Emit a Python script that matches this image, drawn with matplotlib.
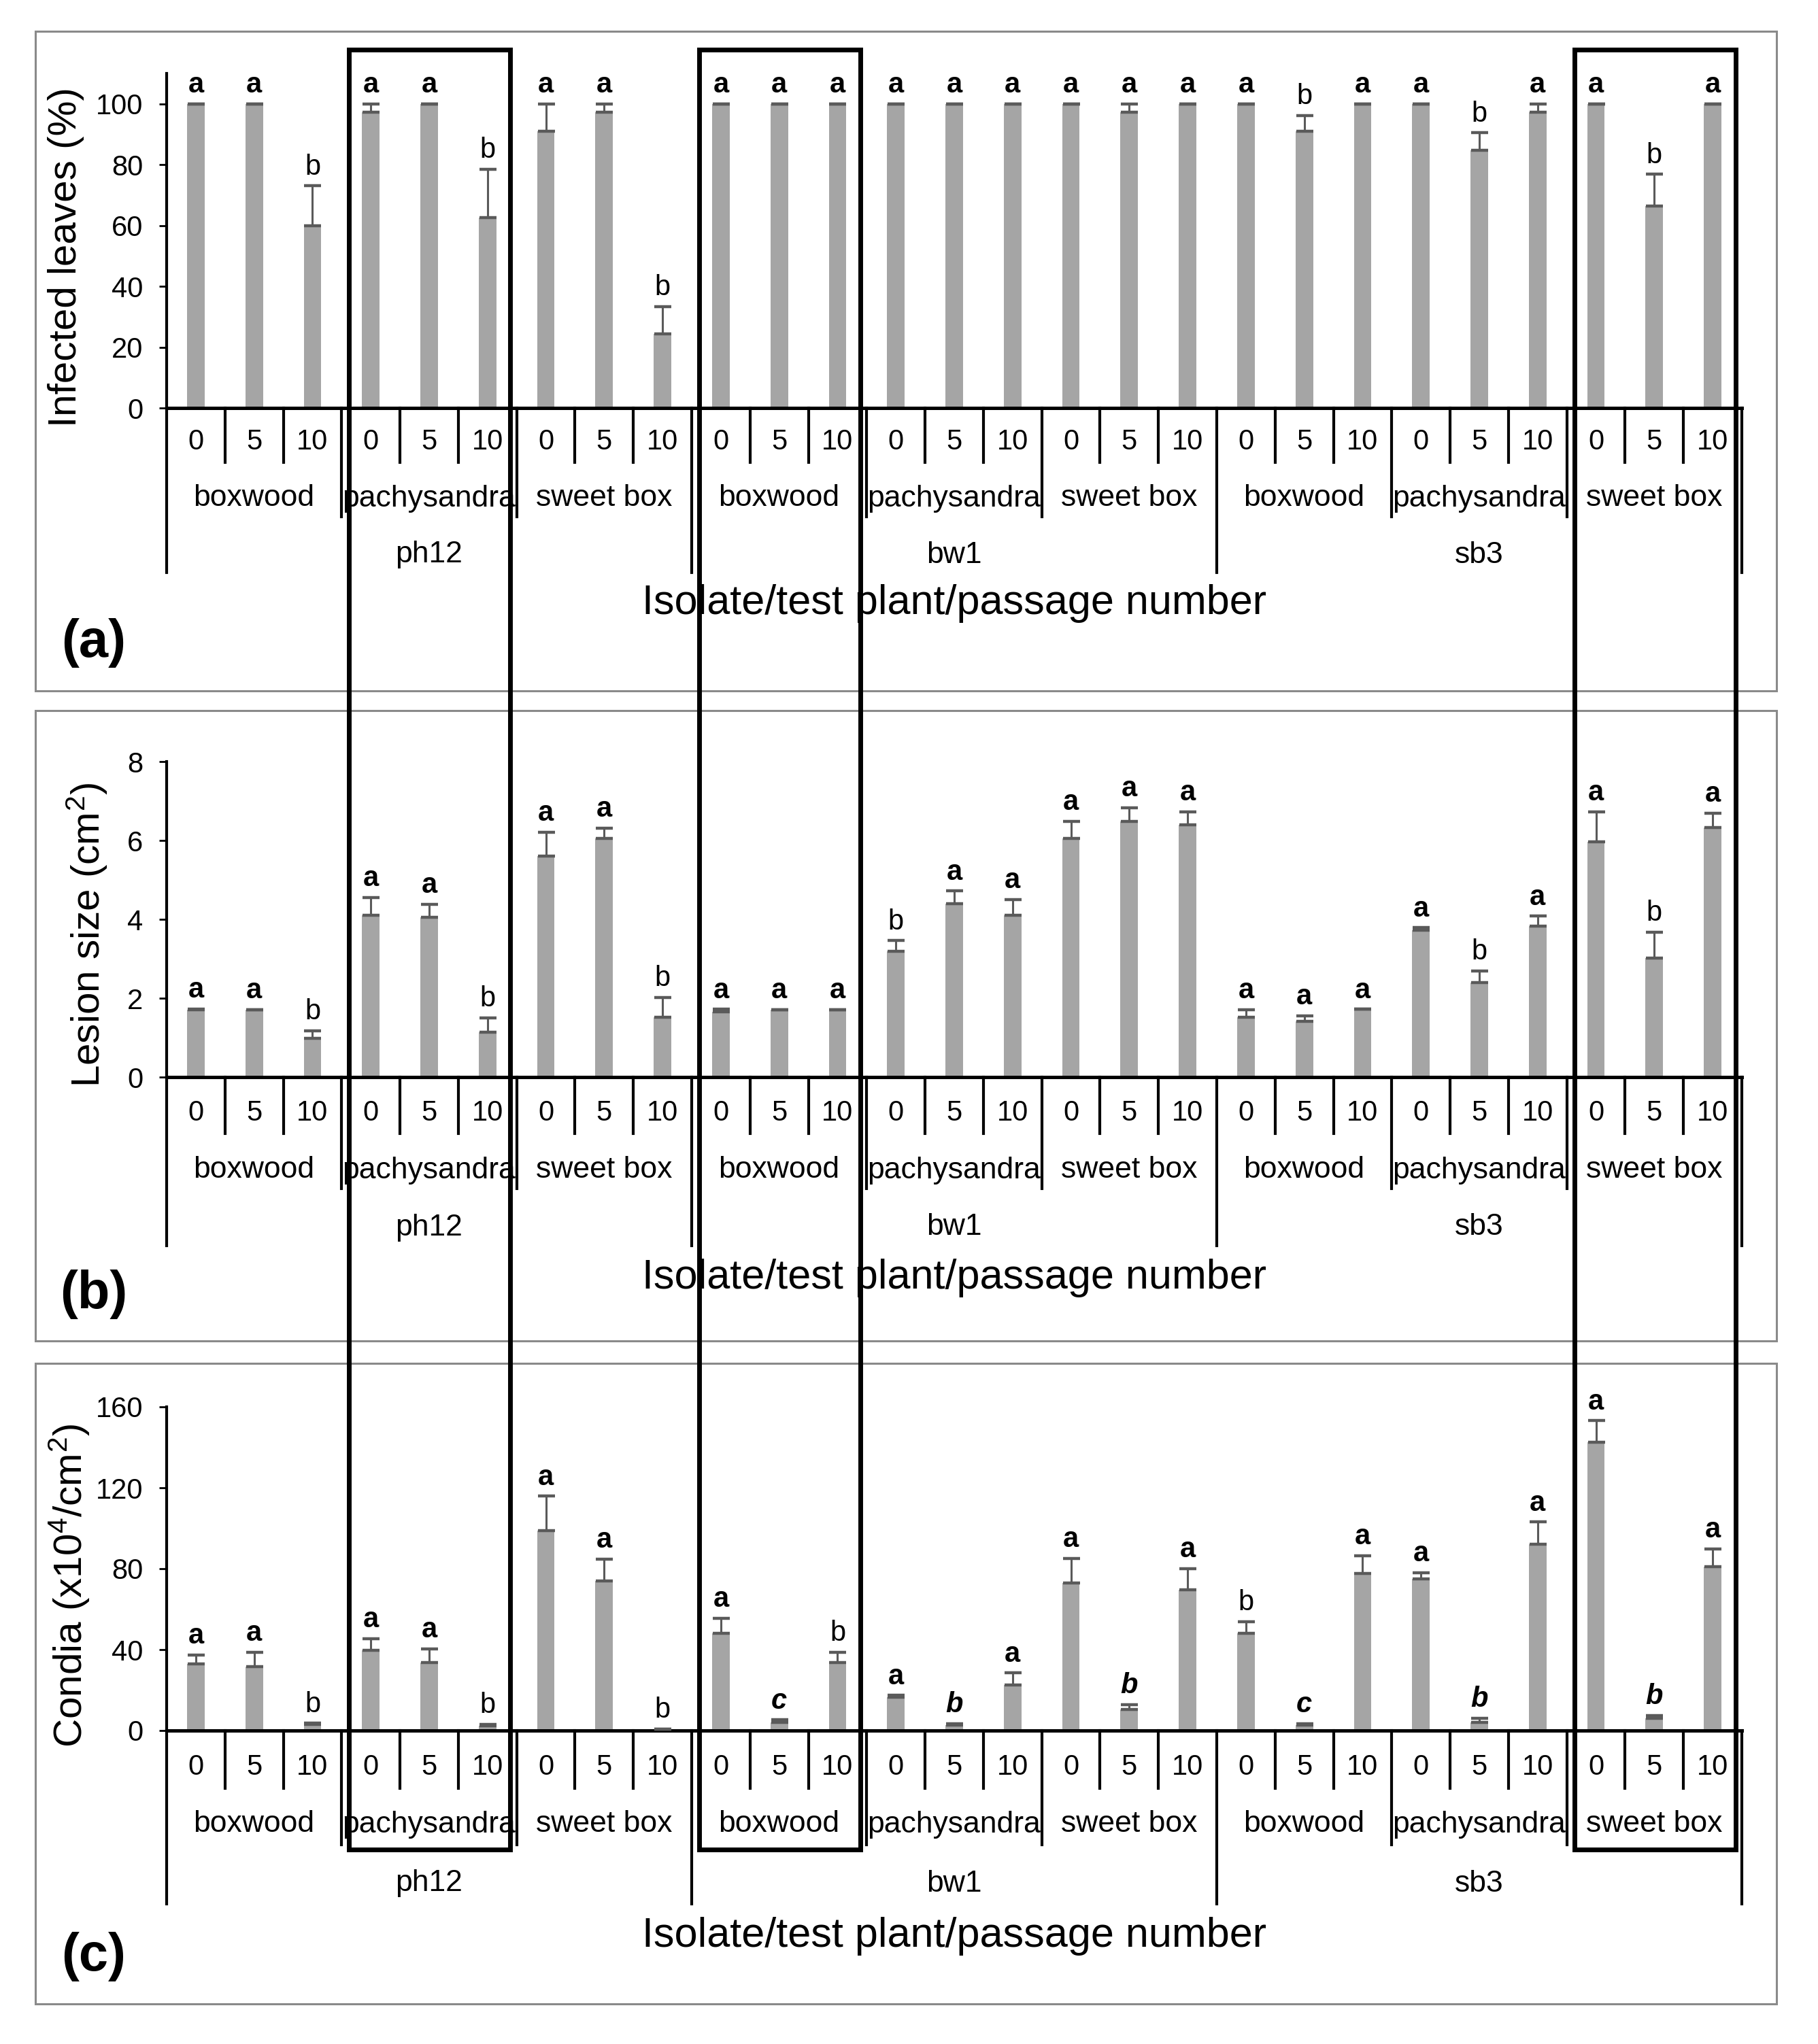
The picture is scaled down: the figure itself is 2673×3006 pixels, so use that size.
import matplotlib

matplotlib.use("Agg")
import matplotlib.pyplot as plt
from matplotlib.lines import Line2D
from matplotlib.patches import Rectangle
from matplotlib.transforms import blended_transform_factory
import numpy as np

W, H = 2673, 3006

PASSAGES = ["0", "5", "10"]
PLANTS = ["boxwood", "pachysandra", "sweet box"]
ISOLATES = ["ph12", "bw1", "sb3"]
AXIS_TITLE = "Isolate/test plant/passage number"

# (a) infected leaves (%), 27 bars: isolate -> test plant -> passage
INFECTED = [100, 100, 60, 97.3, 100, 62.5, 91, 97.3, 24.3,
            100, 100, 100, 100, 100, 100, 100, 97.3, 100,
            100, 91, 100, 100, 84.8, 97.3, 100, 66.3, 100]
INFECTED_ERR = [0, 0, 13, 2.7, 0, 16, 9, 2.7, 9,
                0, 0, 0, 0, 0, 0, 0, 2.7, 0,
                0, 5.2, 0, 0, 5.7, 2.7, 0, 10.5, 0]
INFECTED_LETTERS = ["a", "a", "b", "a", "a", "b", "a", "a", "b",
                    "a", "a", "a", "a", "a", "a", "a", "a", "a",
                    "a", "b", "a", "a", "b", "a", "a", "b", "a"]

# (b) lesion size (cm2)
LESION = [1.71, 1.71, 0.99, 4.10, 4.06, 1.13, 5.61, 6.06, 1.52,
          1.65, 1.71, 1.71, 3.19, 4.40, 4.10, 6.06, 6.48, 6.40,
          1.52, 1.42, 1.72, 3.73, 2.40, 3.83, 5.96, 3.02, 6.33]
LESION_ERR = [0.02, 0.0, 0.18, 0.45, 0.32, 0.37, 0.6, 0.25, 0.5,
              0.07, 0.0, 0.0, 0.27, 0.32, 0.40, 0.42, 0.35, 0.33,
              0.19, 0.13, 0.0, 0.06, 0.29, 0.25, 0.77, 0.65, 0.36]
LESION_LETTERS = ["a", "a", "b", "a", "a", "b", "a", "a", "b",
                  "a", "a", "a", "b", "a", "a", "a", "a", "a",
                  "a", "a", "a", "a", "b", "a", "a", "b", "a"]

# (c) conidia (x10^4/cm2)
CONIDIA = [33.1, 31.5, 3.0, 39.5, 33.5, 2.2, 98.9, 73.8, 0.6,
           48.2, 4.0, 33.5, 16.5, 2.7, 22.5, 73.0, 10.5, 69.6,
           48.2, 2.7, 77.8, 75.1, 3.9, 92.1, 142.4, 6.0, 81.1]
CONIDIA_ERR = [4.2, 7.2, 0.6, 6.0, 7.0, 0.8, 17.0, 11.0, 0.2,
               7.4, 1.3, 5.3, 0.9, 0.8, 6.0, 12.0, 2.3, 10.5,
               5.6, 0.8, 8.6, 3.0, 2.1, 11.0, 10.8, 1.5, 8.7]
CONIDIA_LETTERS = ["a", "a", "b", "a", "a", "b", "a", "a", "b",
                   "a", "c", "b", "a", "b", "a", "a", "b", "a",
                   "b", "c", "a", "a", "b", "a", "a", "b", "a"]
CONIDIA_ITALIC = [10, 13, 16, 19, 22, 25]

# test-plant groups framed by the tall black boxes
HIGHLIGHT_GROUPS = [1, 3, 8]

BAR_COLOR = "#a5a5a5"
ERR_COLOR = "#5a5a5a"
FRAME_COLOR = "#8a8a8a"

plt.rcParams["font.family"] = ["Liberation Sans", "DejaVu Sans"]
plt.rcParams["mathtext.default"] = "regular"


def fx(px):
    return px / W


def fy(px):
    return 1 - px / H


PANELS = [
    dict(values=INFECTED, err=INFECTED_ERR, letters=INFECTED_LETTERS, italic=[],
         ylabel="Infected leaves (%)", ymax=110, yticks=[0, 20, 40, 60, 80, 100], tag="(a)",
         axis_px=(600, 108), frame_px=(46, 1016), ylabel_px=(97, 378), tag_px=945,
         text_off=(50, 133, 216, 287), line_off=(80, 160, 242)),
    dict(values=LESION, err=LESION_ERR, letters=LESION_LETTERS, italic=[],
         ylabel="Lesion size (cm$^{2}$)", ymax=8, yticks=[0, 2, 4, 6, 8], tag="(b)",
         axis_px=(1584, 1120), frame_px=(1045, 1972), ylabel_px=(128, 1375), tag_px=1904,
         text_off=(53, 137, 221, 296), line_off=(83, 164, 248)),
    dict(values=CONIDIA, err=CONIDIA_ERR, letters=CONIDIA_LETTERS, italic=CONIDIA_ITALIC,
         ylabel="Condia (x10$^{4}$/cm$^{2}$)", ymax=160, yticks=[0, 40, 80, 120, 160], tag="(c)",
         axis_px=(2545, 2069), frame_px=(2005, 2947), ylabel_px=(102, 2332), tag_px=2878,
         text_off=(54, 138, 225, 302), line_off=(85, 168, 255)),
]

fig = plt.figure(figsize=(W / 100, H / 100), dpi=100)
x = np.arange(27)
axes = []

for p in PANELS:
    bottom_px, top_px = p["axis_px"]
    ax = fig.add_axes([fx(245), fy(bottom_px), fx(2561) - fx(245), (bottom_px - top_px) / H])
    axes.append(ax)

    ax.bar(x, p["values"], width=0.30, color=BAR_COLOR, zorder=2)
    ax.errorbar(x, p["values"], yerr=[np.zeros(27), p["err"]], fmt="none",
                ecolor=ERR_COLOR, elinewidth=2.2, capsize=9, capthick=3.2, zorder=3)

    for i, letter in enumerate(p["letters"]):
        italic = i in p["italic"]
        ax.annotate(letter, (i, p["values"][i] + p["err"][i]), xytext=(0, 12),
                    textcoords="offset points", ha="center", va="baseline", fontsize=30,
                    fontweight="bold" if (letter == "a" or italic) else "normal",
                    fontstyle="italic" if italic else "normal", annotation_clip=False)

    ax.set_xlim(-0.5, 26.5)
    ax.set_ylim(0, p["ymax"])
    ax.set_yticks(p["yticks"])
    ax.set_xticks([])
    ax.tick_params(axis="y", length=8, width=2, pad=17, labelsize=30, direction="out")
    for side in ["top", "right"]:
        ax.spines[side].set_visible(False)
    ax.spines["left"].set_linewidth(3)
    ax.spines["bottom"].set_linewidth(3.6)

    # multi-level category axis below the bars
    trans = blended_transform_factory(ax.transData, fig.transFigure)
    t_pass, t_plant, t_iso, t_title = p["text_off"]
    l_tick, l_plant, l_iso = p["line_off"]
    for b in range(28):
        depth = l_iso if b % 9 == 0 else (l_plant if b % 3 == 0 else l_tick)
        fig.add_artist(Line2D([b - 0.5, b - 0.5], [fy(bottom_px), fy(bottom_px + depth)],
                              transform=trans, color="black", lw=3))
    for i in x:
        fig.text(i, fy(bottom_px + t_pass), PASSAGES[i % 3], transform=trans,
                 ha="center", va="center", fontsize=30)
    for g in range(9):
        fig.text(3 * g + 1, fy(bottom_px + t_plant), PLANTS[g % 3], transform=trans,
                 ha="center", va="center", fontsize=32)
    for k, iso in enumerate(ISOLATES):
        fig.text(9 * k + 4, fy(bottom_px + t_iso), iso, transform=trans,
                 ha="center", va="center", fontsize=32)
    fig.text(13, fy(bottom_px + t_title), AXIS_TITLE, transform=trans,
             ha="center", va="center", fontsize=44)

    fig.text(fx(p["ylabel_px"][0]), fy(p["ylabel_px"][1]), p["ylabel"], rotation=90,
             ha="center", va="center", fontsize=42)
    fig.text(fx(138), fy(p["tag_px"]), p["tag"], ha="center", va="center",
             fontsize=56, fontweight="bold")

    f_top, f_bot = p["frame_px"]
    fig.add_artist(Rectangle((fx(52), fy(f_bot)), fx(2612) - fx(52), (f_bot - f_top) / H,
                             transform=fig.transFigure, fill=False, ec=FRAME_COLOR, lw=2.2))

# tall black boxes spanning all three panels
trans = blended_transform_factory(axes[0].transData, fig.transFigure)
for g in HIGHLIGHT_GROUPS:
    x0, x1 = 3 * g - 0.37, 3 * g + 2 + 0.39
    fig.add_artist(Rectangle((x0, fy(2720)), x1 - x0, fy(73) - fy(2720), transform=trans,
                             fill=False, ec="black", lw=5, zorder=20))

fig.savefig("out.png", dpi=100)
